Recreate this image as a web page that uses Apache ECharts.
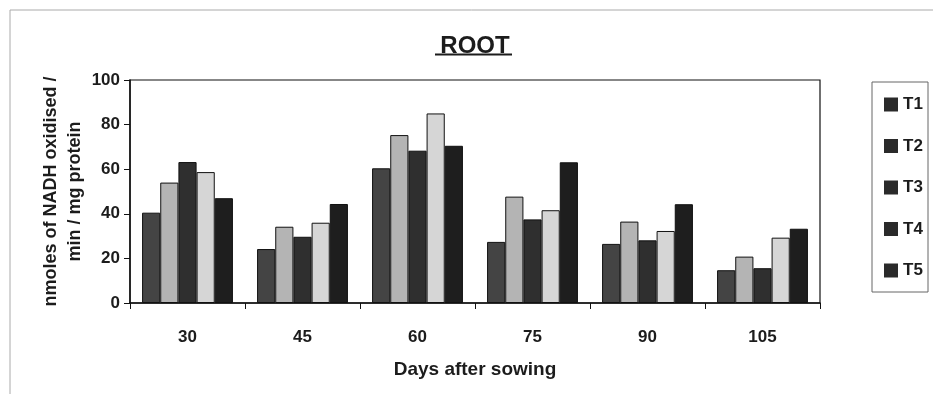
<!DOCTYPE html>
<html>
<head>
<meta charset="utf-8">
<script src="https://cdn.jsdelivr.net/npm/echarts@6/dist/echarts.min.js"></script>
<style>
  html, body { margin: 0; padding: 0; background: #fff; }
  #chart { width: 933px; height: 394px; }
</style>
</head>
<body>
<div id="chart"></div>
<script>
// Days after sowing
var days = ['30', '45', '60', '75', '90', '105'];
var treatments = ['T1', 'T2', 'T3', 'T4', 'T5'];

// NADH oxidase activity in root (nmoles NADH oxidised / min / mg protein)
var t1 = [40.5, 24.2, 60.4, 27.4, 26.5, 14.7];
var t2 = [54.0, 34.2, 75.3, 47.7, 36.5, 20.8];
var t3 = [63.2, 29.7, 68.3, 37.5, 28.1, 15.6];
var t4 = [58.7, 36.0, 85.0, 41.6, 32.3, 29.3];
var t5 = [47.0, 44.4, 70.5, 63.1, 44.3, 33.3];

var yTicks = [0, 20, 40, 60, 80, 100];

var seriesValues = [t1, t2, t3, t4, t5];
var fills = ['#444444', '#b4b4b4', '#2f2f2f', '#d6d6d6', '#1e1e1e'];

var font = '"Liberation Sans", Arial, sans-serif';
var ink = '#1c1c1c';

var chart = echarts.init(document.getElementById('chart'), null, { renderer: 'canvas' });

var series = treatments.map(function (name, i) {
  return {
    name: name,
    type: 'bar',
    data: seriesValues[i],
    barGap: '0%',
    barCategoryGap: '21%',
    itemStyle: { color: fills[i], borderColor: '#111', borderWidth: 1 },
    silent: true
  };
});

chart.setOption({
  animation: false,
  backgroundColor: '#ffffff',
  textStyle: { fontFamily: font },
  title: {
    text: 'ROOT',
    left: 470,
    textAlign: 'center',
    top: 29,
    textStyle: { fontSize: 24, fontWeight: 'bold', color: ink, fontFamily: font }
  },
  legend: {
    orient: 'vertical',
    left: 879,
    top: 91,
    itemWidth: 14,
    itemHeight: 14,
    itemGap: 24.5,
    icon: 'rect',
    selectedMode: false,
    textStyle: { fontSize: 17, fontWeight: 'bold', color: ink, fontFamily: font },
    data: treatments.map(function (n) {
      return { name: n, itemStyle: { color: '#2a2a2a', borderWidth: 0 } };
    })
  },
  grid: {
    left: 130, right: 113, top: 80, bottom: 91,
    show: true, borderColor: '#111', borderWidth: 1.2, backgroundColor: 'transparent'
  },
  xAxis: {
    type: 'category',
    data: days,
    name: 'Days after sowing',
    nameLocation: 'middle',
    nameGap: 57,
    nameMoveOverlap: false,
    nameTextStyle: { fontSize: 19, fontWeight: 'bold', color: ink, fontFamily: font },
    axisLine: { lineStyle: { color: '#111', width: 1.5 } },
    axisTick: { show: true, length: 6, lineStyle: { color: '#111' } },
    axisLabel: { fontSize: 17, fontWeight: 'bold', color: ink, margin: 26, fontFamily: font },
    splitLine: { show: false }
  },
  yAxis: {
    type: 'value',
    min: yTicks[0],
    max: yTicks[yTicks.length - 1],
    interval: yTicks[1] - yTicks[0],
    name: 'nmoles of NADH oxidised /\nmin / mg protein',
    nameLocation: 'middle',
    nameGap: 43,
    nameMoveOverlap: false,
    nameTextStyle: { fontSize: 18, fontWeight: 'bold', color: ink, lineHeight: 24, fontFamily: font },
    axisLine: { show: true, lineStyle: { color: '#111', width: 1.5 } },
    axisTick: { show: true, length: 6, lineStyle: { color: '#111' } },
    axisLabel: { fontSize: 17, fontWeight: 'bold', color: ink, margin: 10, fontFamily: font },
    splitLine: { show: false }
  },
  graphic: [
    // underline beneath the title
    { type: 'line', shape: { x1: 435, y1: 54.5, x2: 512, y2: 54.5 }, style: { stroke: ink, lineWidth: 2 } },
    // legend frame
    { type: 'rect', shape: { x: 872, y: 82, width: 56, height: 210 }, style: { fill: 'none', stroke: '#666', lineWidth: 1 } },
    // page frame lines
    { type: 'line', shape: { x1: 10, y1: 10, x2: 933, y2: 10 }, style: { stroke: '#aaa', lineWidth: 1 } },
    { type: 'line', shape: { x1: 10, y1: 10, x2: 10, y2: 394 }, style: { stroke: '#aaa', lineWidth: 1 } }
  ],
  series: series
});
</script>
</body>
</html>
